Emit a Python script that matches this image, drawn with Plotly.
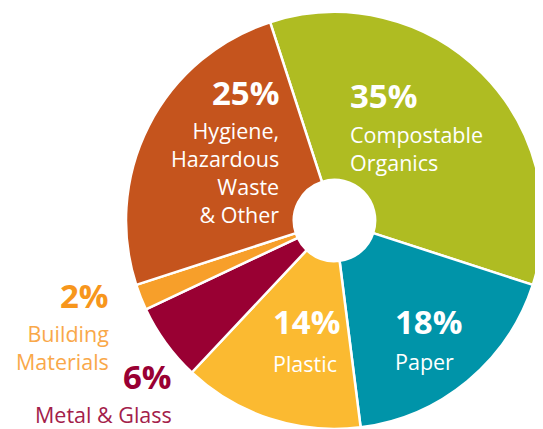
import plotly.graph_objects as go

# ---- data ----
categories = ["Compostable Organics", "Paper", "Plastic", "Metal & Glass",
              "Building Materials", "Hygiene, Hazardous Waste & Other"]
values = [35, 18, 14, 6, 2, 25]
pct_labels = ["35%", "18%", "14%", "6%", "2%", "25%"]
name_lines = [["Compostable", "Organics"], ["Paper"], ["Plastic"],
              ["Metal & Glass"], ["Building", "Materials"],
              ["Hygiene,", "Hazardous", "Waste", "& Other"]]

# ---- styles ----
colors = ["#AFBC22", "#0094A9", "#FBBA31", "#990033", "#F79F2A", "#C5541D"]
pct_colors = ["white", "white", "white", "#990033", "#F7961C", "white"]
name_colors = ["white", "white", "white", "#A3204A", "#F9A84A", "white"]

OFF = 8            # page body margin
W, H = 543 - OFF, 429 - OFF
MT = 4
PCT_SIZE = 33
NAME_SIZE = 21.5
FONT = "Open Sans"


def px(x):
    return (x - OFF) / W


def py(y):
    return (H - (y - OFF)) / (H - MT)


# label placement: (x, align, pct cap-centre y, first name-line cap-centre y)
label_pos = [
    (349, "left", 97, 134.5),
    (394, "left", 322.5, 361.5),
    (272, "left", 322.5, 363.5),
    (173, "right", 377.5, 414.5),
    (110, "right", 296.5, 333.5),
    (280, "right", 93.5, 130.5),
]

fig = go.Figure(go.Pie(
    labels=categories,
    values=values,
    sort=False,
    direction="clockwise",
    rotation=-18,
    hole=0.195,
    textinfo="none",
    hoverinfo="label+percent",
    marker=dict(colors=colors, line=dict(color="white", width=2.5)),
    domain=dict(x=[1 - (H - MT) / W, 1], y=[0, 1]),
))

annotations = []
for i, (ax, al, ypct, yname) in enumerate(label_pos):
    annotations.append(dict(
        x=px(ax), y=py(ypct - 1), xref="paper", yref="paper",
        text="<b>%s</b>" % pct_labels[i], showarrow=False,
        xanchor=al, yanchor="middle", borderpad=0,
        font=dict(family=FONT, size=PCT_SIZE, color=pct_colors[i]),
    ))
    annotations.append(dict(
        x=px(ax), y=py(yname - 0.712 * NAME_SIZE), xref="paper", yref="paper",
        text="<br>".join(name_lines[i]), showarrow=False, align=al,
        xanchor=al, yanchor="top", borderpad=0,
        font=dict(family=FONT, size=NAME_SIZE, color=name_colors[i]),
    ))

fig.update_layout(
    width=W, height=H,
    margin=dict(l=0, r=0, t=MT, b=0),
    showlegend=False,
    paper_bgcolor="white",
    plot_bgcolor="white",
    annotations=annotations,
)

fig.write_html("out.html")
